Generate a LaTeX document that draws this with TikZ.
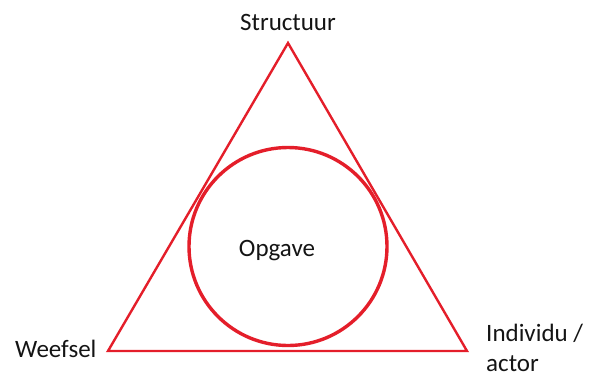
\documentclass[tikz,border=0pt]{standalone}
\usepackage{fontspec}
\setmainfont{Carlito}
\usepackage{xcolor}
\usepackage{tikz}
\definecolor{trired}{RGB}{228,30,42}
\definecolor{labelgray}{RGB}{20,20,20}
\begin{document}
\begin{tikzpicture}[x=1pt,y=-1pt]
  \useasboundingbox (0,0) rectangle (592,376);
  \tikzset{label text/.style={inner sep=0pt, text=labelgray,
      font=\fontsize{25}{31}\selectfont}}
  % Corners
  \coordinate (top) at (288,43);
  \coordinate (left) at (108,351);
  \coordinate (right) at (467,351);
  % Triangle
  \draw[trired, line width=2.4pt, line join=miter] (top) -- (right) -- (left) -- cycle;
  % Inscribed circle
  \draw[trired, line width=3.4pt] (288,246.5) circle (99);
  % Labels
  \node[label text, anchor=base] (structuur) at (288,30) {Structuur};
  \node[label text, anchor=base west] (weefsel) at (15,357) {Weefsel};
  \node[label text, anchor=base west, align=left,
        font=\fontsize{25}{30}\selectfont] (individu) at (486,371) {Individu /\\actor};
  \node[label text, anchor=base] (opgave) at (277,256) {Opgave};
\end{tikzpicture}
\end{document}
